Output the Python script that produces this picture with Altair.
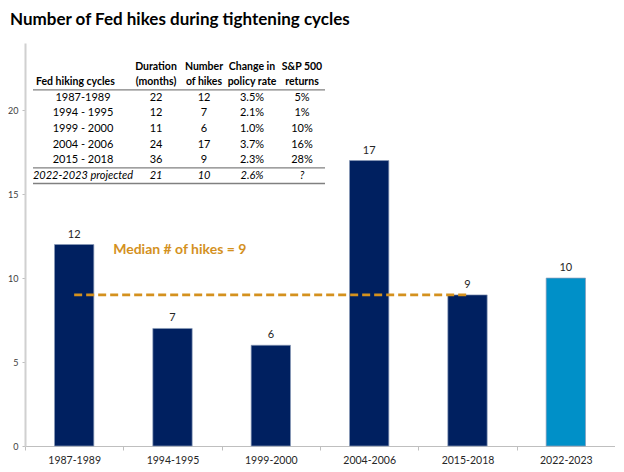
import altair as alt
import pandas as pd

# ---------------- data ----------------
cycles = ["1987-1989", "1994-1995", "1999-2000", "2004-2006", "2015-2018", "2022-2023"]
hikes = [12, 7, 6, 17, 9, 10]
series_kind = ["Past", "Past", "Past", "Past", "Past", "Projected"]
median_hikes = 9
median_label = "Median # of hikes = 9"

table_cycles = ["1987-1989", "1994 - 1995", "1999 - 2000", "2004 - 2006", "2015 - 2018", "2022-2023 projected"]
table_duration = ["22", "12", "11", "24", "36", "21"]
table_hikes = ["12", "7", "6", "17", "9", "10"]
table_rate = ["3.5%", "2.1%", "1.0%", "3.7%", "2.3%", "2.6%"]
table_returns = ["5%", "1%", "10%", "16%", "28%", "?"]
table_projected = [False, False, False, False, False, True]
first_header = "Fed hiking cycles"
table_headers = [["Duration", "(months)"], ["Number", "of hikes"],
                 ["Change in", "policy rate"], ["S&P 500", "returns"]]

# ---------------- style ----------------
FONT = "Lato"
NAVY = "#002060"
LIGHT = "#0090C8"
ORANGE = "#D4911E"
TXT = "#262626"

bars_df = pd.DataFrame({"cycle": cycles, "hikes": hikes, "kind": series_kind})
table_df = pd.DataFrame({
    "row": list(range(len(table_cycles))),
    "cycle": table_cycles,
    "duration": table_duration,
    "hikes": table_hikes,
    "rate": table_rate,
    "ret": table_returns,
    "projected": table_projected,
})

x_enc = alt.X(
    "cycle:N", sort=cycles,
    scale=alt.Scale(paddingInner=0, paddingOuter=0),
    axis=alt.Axis(title=None, labelAngle=0, tickBand="extent", labelFont=FONT,
                  labelFontSize=10.5, labelColor=TXT, labelPadding=5, tickSize=4,
                  tickColor="#bfbfbf", domainColor="#bfbfbf", domainWidth=1.2),
)
y_axis = alt.Axis(title=None, values=[0, 5, 10, 15, 20], grid=False, labelFont=FONT,
                  labelFontSize=9, labelColor="#404040", tickSize=3, labelPadding=4,
                  tickColor="#bfbfbf", domainColor="#d0d0d0", domainWidth=2)
y_scale = alt.Scale(domain=[0, 24], nice=False)

bars = alt.Chart(bars_df).mark_bar(
    width=alt.RelativeBandSize(0.4), stroke="#8a9bb8", strokeWidth=0.7
).encode(
    x=x_enc,
    y=alt.Y("hikes:Q", scale=y_scale, axis=y_axis),
    color=alt.Color("kind:N", scale=alt.Scale(domain=["Past", "Projected"], range=[NAVY, LIGHT]), legend=None),
)

bar_labels = alt.Chart(bars_df).mark_text(
    baseline="alphabetic", dy=-7, font=FONT, fontSize=11, color=TXT
).encode(
    x=alt.X("cycle:N", sort=cycles),
    y=alt.Y("hikes:Q"),
    text="hikes:Q",
)

median_df = pd.DataFrame({"start": [cycles[0]], "end": [cycles[4]], "value": [median_hikes]})
median_rule = alt.Chart(median_df).mark_rule(
    color=ORANGE, strokeWidth=2.8, strokeDash=[8, 4]
).encode(
    x=alt.X("start:N", sort=cycles, bandPosition=0.5),
    x2=alt.X2("end", bandPosition=0.5),
    y=alt.Y("value:Q"),
)

median_text_df = pd.DataFrame({"cycle": [cycles[0]], "label": [median_label]})
median_text = alt.Chart(median_text_df).mark_text(
    align="left", baseline="middle", dx=39, font=FONT, fontSize=14,
    fontWeight="bold", color=ORANGE
).encode(
    x=alt.X("cycle:N", sort=cycles),
    y=alt.datum(11.7),
    text="label:N",
)

main = alt.layer(bars, bar_labels, median_rule, median_text)

# ---------------- table ----------------
row_scale = alt.Scale(domain=[-2, 5], range=[23.5, 132.7], nice=False, zero=False)
col_x = [58, 131, 179, 227, 277]
fields = ["cycle", "duration", "hikes", "rate", "ret"]

table_layers = []
for f, cx in zip(fields, col_x):
    for italic in (False, True):
        lay = alt.Chart(table_df).transform_filter(
            "datum.projected" if italic else "!datum.projected"
        ).mark_text(
            align="center", baseline="middle", font=FONT, fontSize=11, color="#000000",
            fontStyle="italic" if italic else "normal"
        ).encode(
            x=alt.value(cx),
            y=alt.Y("row:Q", scale=row_scale, axis=None),
            text=f"{f}:N",
        )
        table_layers.append(lay)

hdr0 = alt.Chart(pd.DataFrame({"row": [-1], "text": [first_header]})).mark_text(
    align="left", baseline="middle", font=FONT, fontSize=10.5, fontWeight="bold", color="#000000"
).encode(x=alt.value(11), y=alt.Y("row:Q", scale=row_scale, axis=None), text="text:N")
table_layers.append(hdr0)

for j, lines in enumerate(table_headers):
    h = alt.Chart(pd.DataFrame({"row": [-2, -1], "text": lines})).mark_text(
        align="center", baseline="middle", font=FONT, fontSize=10.5, fontWeight="bold", color="#000000"
    ).encode(x=alt.value(col_x[j + 1]), y=alt.Y("row:Q", scale=row_scale, axis=None), text="text:N")
    table_layers.append(h)

rules = alt.Chart(pd.DataFrame({"row": [-0.5, 4.5, 5.5]})).mark_rule(
    color="#808080", strokeWidth=1.3
).encode(
    x=alt.value(8), x2=alt.value(300),
    y=alt.Y("row:Q", scale=row_scale, axis=None),
)
table_layers.append(rules)

table = alt.layer(*table_layers)

chart = alt.layer(main, table).resolve_scale(y="independent").properties(
    width=590, height=403,
    autosize=alt.AutoSizeParams(type="none"),
    padding={"left": 17, "top": 35, "right": 0, "bottom": 18},
    title=alt.TitleParams(
        "Number of Fed hikes during tightening cycles", anchor="start", frame="group",
        dx=-15, offset=14, font=FONT, fontSize=17, fontWeight="bold", color="#000000"
    ),
).configure_view(stroke=None)

chart.save("out.html", embed_options={"renderer": "svg", "actions": False})
